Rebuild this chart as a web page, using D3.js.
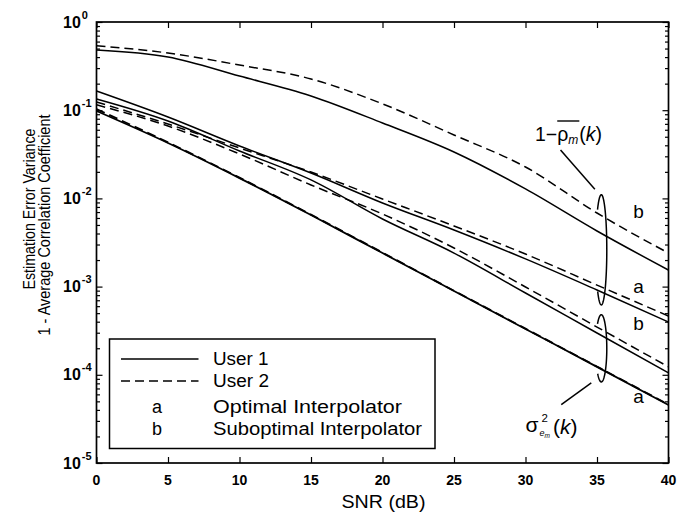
<!DOCTYPE html>
<html><head><meta charset="utf-8">
<script src="https://cdn.jsdelivr.net/npm/d3@7/dist/d3.min.js"></script>
<style>
body{margin:0;background:#fff;}
svg{display:block;font-family:"Liberation Sans",Arial,Helvetica,sans-serif;}
</style>
</head><body>
<svg id="chart" width="679" height="517"></svg>
<script>
// ---- data ----
const snr = [0, 5, 10, 15, 20, 25, 30, 35, 40];
const rhoB_user1 = [0.482, 0.401, 0.244, 0.145, 0.0716, 0.0336, 0.0128, 0.00427, 0.00154];
const rhoB_user2 = [0.539, 0.445, 0.325, 0.226, 0.118, 0.0524, 0.0227, 0.00683, 0.0024];
const rhoA_user1 = [0.165, 0.0837, 0.0393, 0.0194, 0.00887, 0.00438, 0.00206, 0.000915, 0.000397];
const rhoA_user2 = [0.124, 0.0697, 0.0373, 0.0199, 0.00984, 0.00487, 0.00234, 0.00104, 0.000464];
const sigB_user1 = [0.134, 0.0754, 0.0345, 0.0162, 0.00584, 0.0024, 0.000846, 0.000298, 0.000105];
const sigB_user2 = [0.115, 0.0662, 0.0319, 0.0142, 0.00665, 0.00274, 0.00099, 0.000348, 0.000123];
const sigA_user1 = [0.0979, 0.0425, 0.0170, 0.00648, 0.0024, 0.000891, 0.000331, 0.000123, 0.0000455];
const sigA_user2 = [0.103, 0.0432, 0.0172, 0.00655, 0.00243, 0.000898, 0.000334, 0.000124, 0.000046];
const xTicks = [0, 5, 10, 15, 20, 25, 30, 35, 40];
const yTickExps = [0, -1, -2, -3, -4, -5];
const legendUsers = ["User 1", "User 2"];
const legendKeys = ["a", "b"];
const legendKeyText = ["Optimal Interpolator", "Suboptimal Interpolator"];
const xLabel = "SNR (dB)";
const yLabel1 = "Estimation Error Variance";
const yLabel2 = "1 - Average Correlation Coefficient";

// ---- layout ----
const svg = d3.select("#chart");
const L = 96.5, R = 668.5, T = 22, B = 463;
const x = d3.scaleLinear().domain([0, 40]).range([L, R]);
const y = d3.scaleLog().domain([1e-5, 1]).range([B, T]);

const series = [
  {v: rhoB_user1, dash: false}, {v: rhoB_user2, dash: true},
  {v: rhoA_user1, dash: false}, {v: rhoA_user2, dash: true},
  {v: sigB_user1, dash: false}, {v: sigB_user2, dash: true},
  {v: sigA_user1, dash: false, w: 1.8}, {v: sigA_user2, dash: true, w: 1.8}
];
const line = d3.line().x(d => x(d[0])).y(d => y(d[1])).curve(d3.curveMonotoneX);
const g = svg.append("g");
series.forEach(s => {
  g.append("path").datum(snr.map((t, i) => [t, s.v[i]]))
    .attr("d", line).attr("fill", "none").attr("stroke", "#000")
    .attr("stroke-width", s.w || 1.5)
    .attr("stroke-dasharray", s.dash ? "9,5" : null);
});

// ---- axes (inward ticks on all sides) ----
const minor = [];
for (let e = -5; e < 0; e++) for (let k = 2; k <= 9; k++) minor.push(k * Math.pow(10, e));
const major = yTickExps.map(e => Math.pow(10, e));
svg.append("g").attr("transform", `translate(0,${B})`)
  .call(d3.axisBottom(x).tickValues(xTicks).tickSize(-6).tickFormat(""));
svg.append("g").attr("transform", `translate(0,${T})`)
  .call(d3.axisTop(x).tickValues(xTicks).tickSize(-6).tickFormat(""));
svg.append("g").attr("transform", `translate(${L},0)`)
  .call(d3.axisLeft(y).tickValues(major).tickSize(-6).tickFormat(""));
svg.append("g").attr("transform", `translate(${L},0)`)
  .call(d3.axisLeft(y).tickValues(minor).tickSize(-3.5).tickFormat(""));
svg.append("g").attr("transform", `translate(${R},0)`)
  .call(d3.axisRight(y).tickValues(major).tickSize(-6).tickFormat(""));
svg.append("g").attr("transform", `translate(${R},0)`)
  .call(d3.axisRight(y).tickValues(minor).tickSize(-3.5).tickFormat(""));
svg.selectAll(".domain").remove();
svg.selectAll(".tick line").attr("stroke", "#000").attr("stroke-width", 1.2);
svg.append("rect").attr("x", L).attr("y", T).attr("width", R - L).attr("height", B - T)
  .attr("fill", "none").attr("stroke", "#000").attr("stroke-width", 1.7);

// x tick labels
svg.append("g").selectAll("text").data(xTicks).join("text")
  .attr("x", d => x(d)).attr("y", B + 21.5).attr("text-anchor", "middle")
  .attr("font-size", 14).attr("font-weight", "bold").text(d => d);
// y tick labels 10^e
yTickExps.forEach(e => {
  const t = svg.append("text").attr("x", 63).attr("y", y(Math.pow(10, e)) + 5.5)
    .attr("font-size", 16).attr("font-weight", "bold");
  t.append("tspan").text("10");
  t.append("tspan").attr("dy", -9).attr("dx", 1).attr("font-size", 11).text(e === 0 ? "0" : "-" + Math.abs(e));
});
// axis labels
svg.append("text").attr("x", (L + R) / 2 + 1).attr("y", 507.5).attr("text-anchor", "middle")
  .attr("font-size", 17.5).attr("textLength", 84).attr("lengthAdjust", "spacingAndGlyphs").text(xLabel);
svg.append("text").attr("transform", "translate(35,209) rotate(-90)").attr("text-anchor", "middle")
  .attr("font-size", 17).attr("textLength", 161).attr("lengthAdjust", "spacingAndGlyphs").text(yLabel1);
svg.append("text").attr("transform", "translate(49.5,225) rotate(-90)").attr("text-anchor", "middle")
  .attr("font-size", 17).attr("textLength", 221).attr("lengthAdjust", "spacingAndGlyphs").text(yLabel2);

// ---- legend ----
const lg = svg.append("g");
lg.append("rect").attr("x", 109.5).attr("y", 339).attr("width", 325.5).attr("height", 109.5)
  .attr("fill", "#fff").attr("stroke", "#000").attr("stroke-width", 1.5);
const rowsY = [365, 387, 412.5, 435];
const textLens = [55.5, 56, 189, 209];
legendUsers.forEach((u, i) => {
  lg.append("line").attr("x1", 121).attr("x2", 198.5).attr("y1", rowsY[i] - 6).attr("y2", rowsY[i] - 6)
    .attr("stroke", "#000").attr("stroke-width", 1.5).attr("stroke-dasharray", i ? "9,5" : null);
  lg.append("text").attr("x", 213).attr("y", rowsY[i]).attr("font-size", 17.5)
    .attr("textLength", textLens[i]).attr("lengthAdjust", "spacingAndGlyphs").text(u);
});
legendKeys.forEach((k, i) => {
  lg.append("text").attr("x", 157).attr("y", rowsY[i + 2]).attr("text-anchor", "middle")
    .attr("font-size", 18).text(k);
  lg.append("text").attr("x", 213).attr("y", rowsY[i + 2]).attr("font-size", 17.5)
    .attr("textLength", textLens[i + 2]).attr("lengthAdjust", "spacingAndGlyphs").text(legendKeyText[i]);
});

// ---- annotations ----
const an = svg.append("g").attr("stroke", "#000").attr("fill", "none").attr("stroke-width", 1.5);
function openEllipse(cx, cy, rx, ry) {
  const pts = d3.range(-0.74 * Math.PI, 0.74 * Math.PI + 0.001, Math.PI / 60)
    .map(t => [cx + rx * Math.cos(t), cy + ry * Math.sin(t)]);
  return d3.line()(pts);
}
an.append("path").attr("d", openEllipse(x(35.3), (y(0.011) + y(6.2e-4)) / 2, 5.5, (y(6.2e-4) - y(0.011)) / 2));
an.append("path").attr("d", openEllipse(x(35.3), (y(4.8e-4) + y(8.3e-5)) / 2, 5.5, (y(8.3e-5) - y(4.8e-4)) / 2));
an.append("line").attr("x1", x(32.45)).attr("y1", y(0.0354)).attr("x2", x(34.85)).attr("y2", y(0.0127));
an.append("line").attr("x1", x(34.6)).attr("y1", y(8.1e-5)).attr("x2", x(32.5)).attr("y2", y(4.6e-5));

// curve group labels a/b
const abLabels = [["b", 0.0070], ["a", 0.0010], ["b", 3.8e-4], ["a", 5.6e-5]];
svg.append("g").selectAll("text").data(abLabels).join("text")
  .attr("x", x(37.9)).attr("y", d => y(d[1]) + 6).attr("text-anchor", "middle")
  .attr("font-size", 19).text(d => d[0]);

// 1 - rho_m(k) label
const rt = svg.append("text").attr("x", 535).attr("y", 140.5).attr("font-size", 19.5);
rt.append("tspan").text("1\u2212");
rt.append("tspan").text("\u03C1");
rt.append("tspan").attr("font-size", 12).attr("font-style", "italic").attr("dy", 3).text("m");
rt.append("tspan").attr("dy", -3).attr("dx", 1).text("(");
rt.append("tspan").attr("font-style", "italic").text("k");
rt.append("tspan").text(")");
const node = rt.node();
const ox1 = node.getStartPositionOfChar(2).x, ox2 = node.getEndPositionOfChar(3).x;
svg.append("line").attr("x1", ox1).attr("x2", ox2 + 1).attr("y1", 121).attr("y2", 121)
  .attr("stroke", "#000").attr("stroke-width", 1.4);

// sigma^2_{e_m}(k) label: stacked superscript / subscript as separate, non-overlapping texts
const sg = svg.append("g");
sg.append("text").attr("x", 525.5).attr("y", 432).attr("font-size", 21).text("\u03C3");
sg.append("text").attr("x", 541.5).attr("y", 422).attr("font-size", 11.5).text("2");
const st = sg.append("text").attr("x", 539.5).attr("y", 436).attr("font-size", 9).attr("font-style", "italic");
st.append("tspan").text("e");
st.append("tspan").attr("font-size", 6.5).attr("dy", 1.5).text("m");
const kt = sg.append("text").attr("x", 553).attr("y", 434).attr("font-size", 21);
kt.append("tspan").text("(");
kt.append("tspan").attr("font-style", "italic").text("k");
kt.append("tspan").text(")");
</script>
</body></html>
